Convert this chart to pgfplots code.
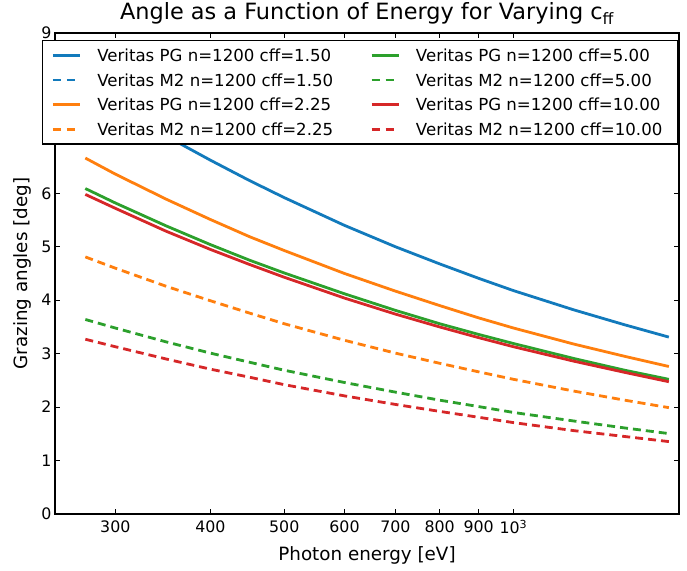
\documentclass[border=0pt]{standalone}
\usepackage{fontspec}
\setmainfont{DejaVu Sans}
\usepackage{pgfplots}
\usepackage{pgfplotstable}
\pgfplotsset{compat=1.18}
\definecolor{cB}{RGB}{18,122,188}
\definecolor{cO}{RGB}{255,127,14}
\definecolor{cG}{RGB}{44,160,44}
\definecolor{cR}{RGB}{214,39,40}
\pgfplotstableread{
E    bPG   oPG   oM2   gPG   gM2   rPG   rM2
274  7.99  6.66  4.81  6.09  3.64  5.98  3.27
300  7.64  6.36  4.60  5.82  3.48  5.72  3.13
350  7.07  5.89  4.26  5.39  3.22  5.29  2.90
400  6.62  5.51  3.99  5.04  3.01  4.95  2.71
450  6.24  5.19  3.76  4.75  2.84  4.67  2.56
500  5.92  4.93  3.56  4.51  2.69  4.43  2.42
600  5.40  4.50  3.25  4.12  2.46  4.04  2.21
700  5.00  4.17  3.01  3.81  2.28  3.74  2.05
800  4.68  3.90  2.82  3.56  2.13  3.50  1.92
900  4.41  3.67  2.66  3.36  2.01  3.30  1.81
1000 4.18  3.48  2.52  3.19  1.90  3.13  1.71
1200 3.82  3.18  2.30  2.91  1.74  2.86  1.56
1400 3.54  2.95  2.13  2.69  1.61  2.65  1.45
1600 3.31  2.76  1.99  2.52  1.505 2.475 1.355
}\datatable
\begin{document}
\begin{tikzpicture}
\begin{axis}[
  name=ax,
  scale only axis, width=624pt, height=481pt,
  xmode=log, xmin=250, xmax=1650, ymin=0, ymax=9,
  xtick={300,400,500,600,700,800,900,1000},
  xticklabels={300,400,500,600,700,800,900,10\textsuperscript{3}},
  xminorticks=false,
  ytick={0,1,2,3,4,5,6,7,8,9},
  /pgf/number format/assume math mode=true,
  tick align=inside, tick pos=both,
  major tick length=5pt,
  tick style={black, line width=1pt},
  axis line style={black, line width=1.3pt},
  tick label style={font=\fontsize{15.8}{18}\selectfont},
  xticklabel style={yshift=-3pt},
  label style={font=\fontsize{18.3}{22}\selectfont},
  xlabel={Photon energy [eV]},
  ylabel={Grazing angles [deg]},
  xlabel style={at={(axis description cs:0.5,-0.0977)}, anchor=base},
  ylabel style={at={(axis description cs:-0.0529,0.5)}, anchor=center},
  title={Angle as a Function of Energy for Varying c\textsubscript{ff}},
  title style={font=\fontsize{22.4}{26}\selectfont, at={(axis description cs:0.5,1)}, anchor=base, yshift=7pt},
  every axis plot/.append style={line width=2.8pt},
  legend image code/.code={\draw[#1] (0pt,0pt) -- (27pt,0pt);},
  legend columns=2,
  legend cell align=left,
  legend style={at={(axis description cs:-0.021,0.9854)}, anchor=north west,
    draw=black, line width=1.2pt, fill=white,
    font=\fontsize{16.6}{20}\selectfont,
    inner xsep=9pt, inner ysep=2.5pt,
    nodes={text height=12pt, text depth=0pt, inner ysep=6.3pt, inner xsep=6pt},
    /tikz/every odd column/.append style={column sep=10pt},
    /tikz/every even column/.append style={column sep=31pt}},
]
\addplot[cB, forget plot] table[x=E, y=bPG] {\datatable};
\addplot[cO, forget plot] table[x=E, y=oPG] {\datatable};
\addplot[cO, dash pattern=on 8pt off 5pt, forget plot] table[x=E, y=oM2] {\datatable};
\addplot[cG, forget plot] table[x=E, y=gPG] {\datatable};
\addplot[cG, dash pattern=on 8pt off 5pt, forget plot] table[x=E, y=gM2] {\datatable};
\addplot[cR, forget plot] table[x=E, y=rPG] {\datatable};
\addplot[cR, dash pattern=on 8pt off 5pt, forget plot] table[x=E, y=rM2] {\datatable};
\addlegendimage{cB, line width=2.8pt}
\addlegendentry{Veritas PG n=1200 cff=1.50}
\addlegendimage{cG, line width=2.8pt}
\addlegendentry{Veritas PG n=1200 cff=5.00}
\addlegendimage{cB, line width=2.8pt, dash pattern=on 8pt off 6pt}
\addlegendentry{Veritas M2 n=1200 cff=1.50}
\addlegendimage{cG, line width=2.8pt, dash pattern=on 8pt off 6pt}
\addlegendentry{Veritas M2 n=1200 cff=5.00}
\addlegendimage{cO, line width=2.8pt}
\addlegendentry{Veritas PG n=1200 cff=2.25}
\addlegendimage{cR, line width=2.8pt}
\addlegendentry{Veritas PG n=1200 cff=10.00}
\addlegendimage{cO, line width=2.8pt, dash pattern=on 8pt off 6pt}
\addlegendentry{Veritas M2 n=1200 cff=2.25}
\addlegendimage{cR, line width=2.8pt, dash pattern=on 8pt off 6pt}
\addlegendentry{Veritas M2 n=1200 cff=10.00}
\end{axis}
\pgfresetboundingbox
\path ([shift={(-55pt,-56pt)}]ax.south west) rectangle ([shift={(8pt,33pt)}]ax.north east);
\end{tikzpicture}
\end{document}
